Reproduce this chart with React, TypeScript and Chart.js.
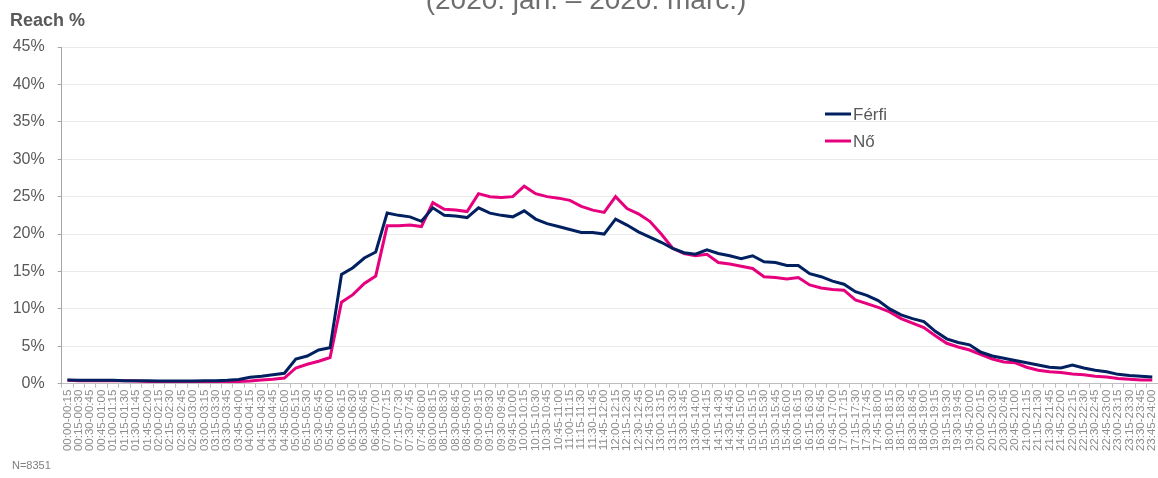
import React, { useEffect, useRef } from "react";
import { Chart, registerables } from "chart.js";

Chart.register(...registerables);

const timeSlots: string[] = [
  "00:00-00:15", "00:15-00:30", "00:30-00:45", "00:45-01:00",
  "01:00-01:15", "01:15-01:30", "01:30-01:45", "01:45-02:00",
  "02:00-02:15", "02:15-02:30", "02:30-02:45", "02:45-03:00",
  "03:00-03:15", "03:15-03:30", "03:30-03:45", "03:45-04:00",
  "04:00-04:15", "04:15-04:30", "04:30-04:45", "04:45-05:00",
  "05:00-05:15", "05:15-05:30", "05:30-05:45", "05:45-06:00",
  "06:00-06:15", "06:15-06:30", "06:30-06:45", "06:45-07:00",
  "07:00-07:15", "07:15-07:30", "07:30-07:45", "07:45-08:00",
  "08:00-08:15", "08:15-08:30", "08:30-08:45", "08:45-09:00",
  "09:00-09:15", "09:15-09:30", "09:30-09:45", "09:45-10:00",
  "10:00-10:15", "10:15-10:30", "10:30-10:45", "10:45-11:00",
  "11:00-11:15", "11:15-11:30", "11:30-11:45", "11:45-12:00",
  "12:00-12:15", "12:15-12:30", "12:30-12:45", "12:45-13:00",
  "13:00-13:15", "13:15-13:30", "13:30-13:45", "13:45-14:00",
  "14:00-14:15", "14:15-14:30", "14:30-14:45", "14:45-15:00",
  "15:00-15:15", "15:15-15:30", "15:30-15:45", "15:45-16:00",
  "16:00-16:15", "16:15-16:30", "16:30-16:45", "16:45-17:00",
  "17:00-17:15", "17:15-17:30", "17:30-17:45", "17:45-18:00",
  "18:00-18:15", "18:15-18:30", "18:30-18:45", "18:45-19:00",
  "19:00-19:15", "19:15-19:30", "19:30-19:45", "19:45-20:00",
  "20:00-20:15", "20:15-20:30", "20:30-20:45", "20:45-21:00",
  "21:00-21:15", "21:15-21:30", "21:30-21:45", "21:45-22:00",
  "22:00-22:15", "22:15-22:30", "22:30-22:45", "22:45-23:00",
  "23:00-23:15", "23:15-23:30", "23:30-23:45", "23:45-24:00",
];

const ferfiValues: number[] = [
  0.5, 0.45, 0.45, 0.45, 0.45, 0.4, 0.4, 0.4,
  0.35, 0.35, 0.35, 0.35, 0.4, 0.4, 0.45, 0.55,
  0.85, 1.0, 1.2, 1.4, 3.3, 3.7, 4.5, 4.8,
  14.6, 15.5, 16.8, 17.6, 22.8, 22.5, 22.3, 21.7,
  23.5, 22.5, 22.4, 22.2, 23.5, 22.8, 22.5, 22.3,
  23.1, 22.0, 21.4, 21.0, 20.6, 20.2, 20.2, 20.0,
  22.0, 21.2, 20.3, 19.6, 18.9, 18.1, 17.5, 17.3,
  17.9, 17.4, 17.1, 16.7, 17.1, 16.3, 16.2, 15.8,
  15.8, 14.7, 14.3, 13.7, 13.3, 12.3, 11.8, 11.1,
  10.0, 9.2, 8.7, 8.3, 7.0, 6.0, 5.5, 5.2,
  4.2, 3.7, 3.4, 3.1, 2.8, 2.5, 2.2, 2.1,
  2.5, 2.1, 1.8, 1.6, 1.25, 1.1, 1.0, 0.9,
];

const noValues: number[] = [
  0.45, 0.4, 0.4, 0.4, 0.4, 0.4, 0.35, 0.3,
  0.3, 0.3, 0.3, 0.3, 0.3, 0.3, 0.3, 0.3,
  0.35, 0.5, 0.6, 0.75, 2.1, 2.6, 3.0, 3.5,
  10.9, 11.9, 13.4, 14.4, 21.1, 21.1, 21.2, 21.0,
  24.2, 23.3, 23.2, 23.0, 25.4, 25.0, 24.9, 25.0,
  26.4, 25.4, 25.0, 24.8, 24.5, 23.7, 23.2, 22.9,
  25.0, 23.4, 22.7, 21.7, 20.0, 18.1, 17.4, 17.1,
  17.3, 16.2, 16.0, 15.7, 15.4, 14.3, 14.2, 14.0,
  14.2, 13.2, 12.8, 12.6, 12.5, 11.2, 10.7, 10.2,
  9.6, 8.7, 8.1, 7.5, 6.4, 5.4, 4.9, 4.5,
  3.9, 3.3, 2.9, 2.8, 2.2, 1.8, 1.6, 1.5,
  1.3, 1.2, 1.0, 0.9, 0.7, 0.6, 0.5, 0.5,
];

const seriesNames: string[] = ["Férfi", "Nő"];
const seriesColors: string[] = ["#002060", "#E6007E"];

const titleText = "(2020. jan. – 2020. márc.)";
const yAxisTitle = "Reach %";
const footnote = "N=8351";

const FONT = "'Liberation Sans', Arial, sans-serif";
const TEXT_COLOR = "#595959";

const overlayPlugin = {
  id: "overlayText",
  afterDraw(chart: any) {
    const ctx = chart.ctx as CanvasRenderingContext2D;
    ctx.save();
    // clipped title at top
    ctx.fillStyle = "#6e6e6e";
    ctx.font = `28px ${FONT}`;
    ctx.textAlign = "center";
    ctx.textBaseline = "alphabetic";
    ctx.fillText(titleText, 586, 8.5);

    // y axis title
    ctx.font = `bold 18px ${FONT}`;
    ctx.fillStyle = TEXT_COLOR;
    ctx.textAlign = "left";
    ctx.textBaseline = "middle";
    ctx.fillText(yAxisTitle, 10, 21);

    // footnote
    ctx.font = `11px ${FONT}`;
    ctx.fillStyle = "#7f7f7f";
    ctx.fillText(footnote, 12, 466);

    // legend
    const ds = chart.data.datasets;
    const legendYs = [114, 141];
    ds.forEach((d: any, i: number) => {
      const y = legendYs[i];
      ctx.strokeStyle = d.borderColor;
      ctx.lineWidth = 3;
      ctx.beginPath();
      ctx.moveTo(825, y);
      ctx.lineTo(851, y);
      ctx.stroke();
      ctx.fillStyle = TEXT_COLOR;
      ctx.font = `17px ${FONT}`;
      ctx.textAlign = "left";
      ctx.textBaseline = "middle";
      ctx.fillText(d.label, 853, y + 1);
    });
    ctx.restore();
  },
};

export default function App() {
  const canvasRef = useRef<HTMLCanvasElement | null>(null);

  useEffect(() => {
    if (!canvasRef.current) return;
    const chart = new Chart(canvasRef.current, {
      type: "line",
      data: {
        labels: timeSlots,
        datasets: [
          {
            label: seriesNames[0],
            data: ferfiValues,
            borderColor: seriesColors[0],
            backgroundColor: seriesColors[0],
            borderWidth: 3,
            pointRadius: 0,
            tension: 0,
          },
          {
            label: seriesNames[1],
            data: noValues,
            borderColor: seriesColors[1],
            backgroundColor: seriesColors[1],
            borderWidth: 3,
            pointRadius: 0,
            tension: 0,
          },
        ],
      },
      options: {
        responsive: false,
        animation: false,
        layout: { padding: { top: 47, left: 0, right: 0, bottom: 0 } },
        plugins: {
          legend: { display: false },
          title: { display: false },
          tooltip: { enabled: false },
        },
        scales: {
          x: {
            type: "category",
            offset: true,
            afterFit(scale: any) {
              scale.height = 94.3;
              scale.paddingLeft = 0;
              scale.paddingRight = 0;
            },
            grid: {
              offset: true,
              drawOnChartArea: false,
              drawTicks: true,
              tickLength: 4,
              tickColor: "#bfbfbf",
            },
            border: { display: true, color: "#bfbfbf", width: 1 },
            ticks: {
              autoSkip: false,
              minRotation: 90,
              maxRotation: 90,
              padding: 2,
              color: "#8c8c8c",
              font: { family: FONT, size: 11.5 },
            },
          },
          y: {
            min: 0,
            max: 45,
            afterFit(scale: any) {
              scale.width = 61.7;
            },
            grid: {
              color: "#ebebeb",
              lineWidth: 1,
              drawTicks: true,
              tickLength: 4,
              tickColor: "#a6a6a6",
            },
            border: { display: true, color: "#a6a6a6", width: 1 },
            ticks: {
              stepSize: 5,
              padding: 13,
              color: TEXT_COLOR,
              font: { family: FONT, size: 16 },
              callback: (v: any) => `${v}%`,
            },
          },
        },
      },
      plugins: [overlayPlugin],
    });
    return () => chart.destroy();
  }, []);

  return (
    <div style={{ position: "absolute", left: 0, top: 0, width: 1158, height: 478, background: "#ffffff" }}>
      <canvas ref={canvasRef} width={1158} height={478} />
    </div>
  );
}
